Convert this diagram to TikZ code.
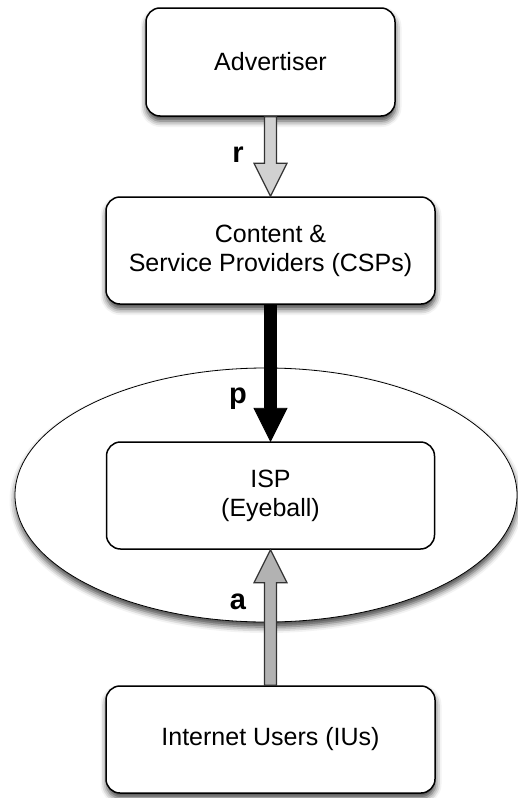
\documentclass[tikz,border=0pt]{standalone}
\usepackage{fontspec}
\setmainfont{Liberation Sans}
\usetikzlibrary{calc,shadows.blur,shapes.geometric}

% Vertical block arrow from #2 to #3 with style #1
\newcommand\blockarrow[3]{%
  \path ($(#3)!33pt!(#2)$) coordinate (ba-base);
  \draw[#1] ($(#2)!6pt!90:(#3)$) -- ($(ba-base)!6pt!-90:(#2)$)
    -- ($(ba-base)!16.5pt!-90:(#2)$) -- (#3)
    -- ($(ba-base)!16.5pt!90:(#2)$) -- ($(ba-base)!6pt!90:(#2)$)
    -- ($(#2)!6pt!-90:(#3)$) -- cycle;
}

\tikzset{
  softshadow/.style={blur shadow={shadow xshift=0.5pt, shadow yshift=-5pt,
      shadow blur radius=6pt, shadow opacity=75}},
  boxbase/.style={draw=black, line width=1.5pt, fill=white, rounded corners=14pt,
      align=center, inner sep=0pt, font=\fontsize{25}{29}\selectfont},
  actor/.style={boxbase, softshadow},
  lbl/.style={font=\fontsize{29}{29}\selectfont\bfseries, anchor=base, inner sep=0pt},
  lightarrow/.style={fill=black!18, draw=black!80, line width=1.2pt, line join=miter},
  midarrow/.style={fill=black!30, draw=black!80, line width=1.2pt, line join=miter},
  heavyarrow/.style={fill=black, draw=black, line width=0.8pt, line join=miter},
}

\begin{document}
\begin{tikzpicture}[x=1pt, y=-1pt]
  \useasboundingbox (0,0) rectangle (517,798);

  % Eyeball ISP market region
  \node[ellipse, draw=black, line width=0.8pt, fill=white, softshadow,
        minimum width=502pt, minimum height=254pt, inner sep=0pt]
        (region) at (266,495) {};

  % Actors
  \node[actor, minimum width=249pt, minimum height=108pt] (adv) at (270.5,62) {Advertiser};
  \node[actor, minimum width=329pt, minimum height=107pt] (csp) at (270.5,250.5)
        {Content \&\\Service Providers (CSPs)};
  \node[boxbase, minimum width=328pt, minimum height=107pt] (isp) at (270.5,495.5)
        {ISP\\(Eyeball)};
  \node[actor, minimum width=329pt, minimum height=107pt] (iu) at (270.5,739.5)
        {Internet Users (IUs)};

  % Payment flows
  \blockarrow{lightarrow}{adv.south}{csp.north}
  \blockarrow{heavyarrow}{csp.south}{isp.north}
  \blockarrow{midarrow}{iu.north}{isp.south}

  % Flow labels
  \node[lbl] (lr) at (238,162) {r};
  \node[lbl] (lp) at (238,403) {p};
  \node[lbl] (la) at (238,609) {a};
\end{tikzpicture}
\end{document}
